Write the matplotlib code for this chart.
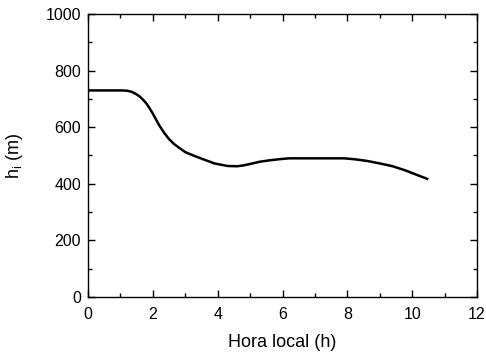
import matplotlib
matplotlib.use("Agg")
import matplotlib.pyplot as plt
from matplotlib.ticker import MultipleLocator

hora = [0, 0.5, 1.0, 1.2, 1.35, 1.5, 1.6, 1.7, 1.8, 1.9, 2.0, 2.1, 2.2, 2.35, 2.5, 2.65, 2.8, 3.0,
        3.25, 3.5, 3.9, 4.3, 4.6, 4.8, 5.0, 5.3, 5.6, 6.0, 6.2, 7.0, 7.9, 8.2,
        8.6, 9.0, 9.4, 9.8, 10.2, 10.5]
hi = [730, 730, 730, 729, 725, 716, 708, 697, 684, 667, 648, 627, 606, 580, 558, 541, 528, 512,
      500, 489, 472, 463, 462, 465, 470, 478, 483, 488, 490, 490, 490, 487,
      481, 472, 462, 447, 429, 416]

plt.rcParams['font.family'] = ['Liberation Sans', 'DejaVu Sans']

fig = plt.figure(figsize=(4.86, 3.53), dpi=100)
ax = fig.add_axes([88/486, 1-297/353, (477-88)/486, (297-14)/353])
ax.plot(hora, hi, color='black', lw=1.8, solid_joinstyle='round', solid_capstyle='butt')
ax.set_xlim(0, 12)
ax.set_ylim(0, 1000)
ax.xaxis.set_major_locator(MultipleLocator(2))
ax.xaxis.set_minor_locator(MultipleLocator(1))
ax.yaxis.set_major_locator(MultipleLocator(200))
ax.yaxis.set_minor_locator(MultipleLocator(100))
ax.tick_params(which='both', direction='in', top=True, right=True, labelsize=11.5, width=1)
ax.tick_params(which='major', length=5)
ax.tick_params(which='minor', length=3)
ax.tick_params(axis='x', which='major', pad=7)
ax.tick_params(axis='y', which='major', pad=5)
for s in ax.spines.values():
    s.set_linewidth(1)
ax.set_xlabel('Hora local (h)', fontsize=13, labelpad=9)
ax.set_ylabel(r'h$_\mathregular{i}$ (m)', fontsize=13, labelpad=15)
fig.savefig('out.png', dpi=100)
